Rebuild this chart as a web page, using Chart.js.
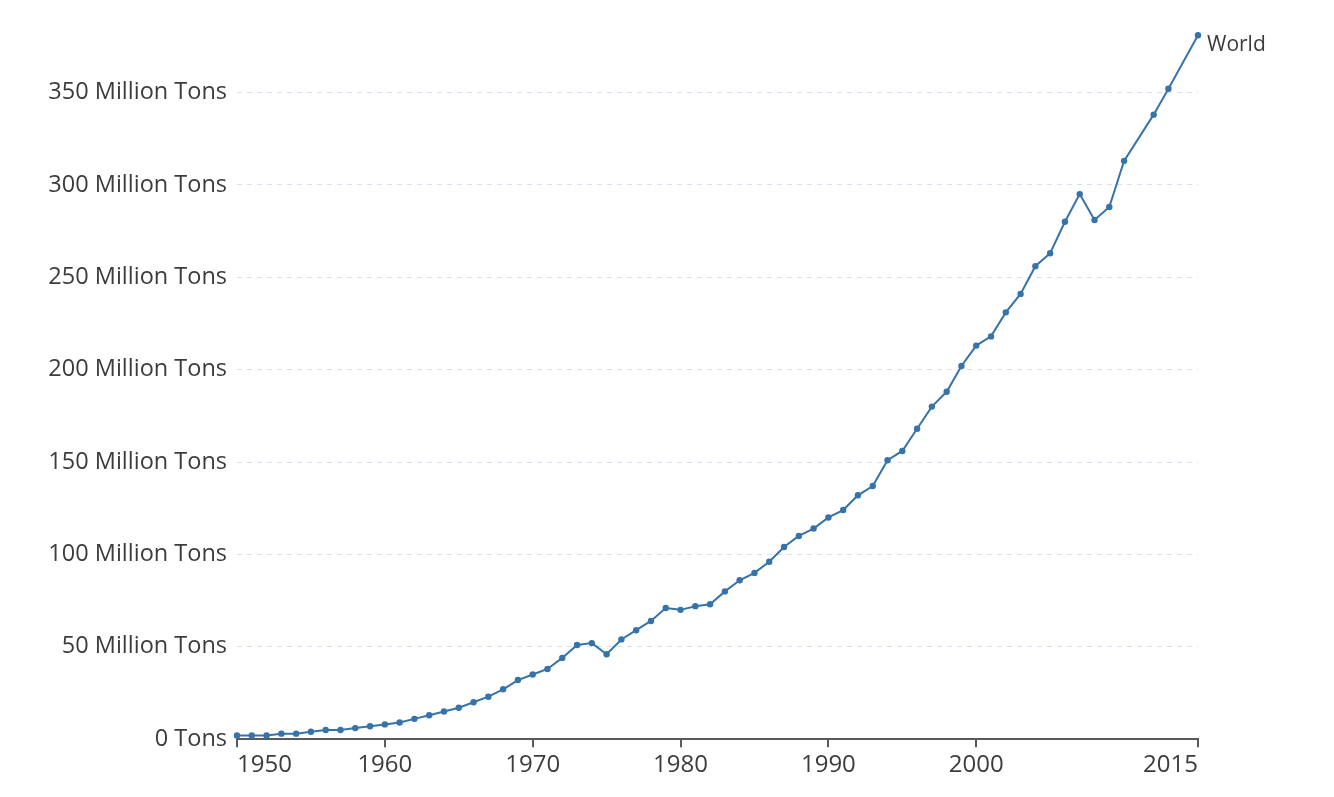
<!DOCTYPE html>
<html>
<head>
<meta charset="utf-8">
<script src="https://cdn.jsdelivr.net/npm/chart.js@4.4.1/dist/chart.umd.min.js"></script>
<style>
html,body{margin:0;padding:0;background:#fff;}
#wrap{width:1334px;height:797px;position:relative;}
</style>
</head>
<body>
<div id="wrap"><canvas id="c" width="1334" height="797"></canvas></div>
<script>
const years = [1950,1951,1952,1953,1954,1955,1956,1957,1958,1959,
  1960,1961,1962,1963,1964,1965,1966,1967,1968,1969,
  1970,1971,1972,1973,1974,1975,1976,1977,1978,1979,
  1980,1981,1982,1983,1984,1985,1986,1987,1988,1989,
  1990,1991,1992,1993,1994,1995,1996,1997,1998,1999,
  2000,2001,2002,2003,2004,2005,2006,2007,2008,2009,
  2010,2012,2013,2015];
const production = [2,2,2,3,3,4,5,5,6,7,
  8,9,11,13,15,17,20,23,27,32,
  35,38,44,51,52,46,54,59,64,71,
  70,72,73,80,86,90,96,104,110,114,
  120,124,132,137,151,156,168,180,188,202,
  213,218,231,241,256,263,280,295,281,288,
  313,338,352,381];
const xTicks = [1950,1960,1970,1980,1990,2000,2015];
const yTicks = [0,50,100,150,200,250,300,350];
const seriesName = "World";

const textColor = "#3c3c3c";
const lineColor = "#3673a8";
const FONT = "'Open Sans', 'Noto Sans', sans-serif";

const labelPlugin = {
  id: 'endLabel',
  afterDatasetsDraw(chart) {
    const meta = chart.getDatasetMeta(0);
    const last = meta.data[meta.data.length - 1];
    const ctx = chart.ctx;
    ctx.save();
    ctx.font = "21px " + FONT;
    ctx.fillStyle = textColor;
    ctx.textAlign = 'left';
    ctx.textBaseline = 'middle';
    ctx.fillText(seriesName, last.x + 9, last.y + 10);
    ctx.restore();
  }
};

new Chart(document.getElementById('c'), {
  type: 'line',
  data: {
    datasets: [{
      label: seriesName,
      data: years.map((y, i) => ({x: y, y: production[i]})),
      borderColor: lineColor,
      backgroundColor: lineColor,
      borderWidth: 2,
      pointRadius: 3.2,
      pointBorderWidth: 0,
      pointBackgroundColor: lineColor,
      tension: 0,
      clip: false
    }]
  },
  options: {
    responsive: false,
    animation: false,
    layout: {padding: {top: 0, right: 136, bottom: 13, left: 0}},
    plugins: {legend: {display: false}, tooltip: {enabled: false}},
    scales: {
      x: {
        type: 'linear',
        min: 1950,
        max: 2015,
        afterBuildTicks(axis) { axis.ticks = xTicks.map(v => ({value: v})); },
        ticks: {
          align: 'inner',
          color: textColor,
          font: {family: FONT, size: 24},
          padding: 4,
          maxRotation: 0,
          autoSkip: false,
          callback: v => String(v)
        },
        grid: {
          drawOnChartArea: false,
          drawTicks: true,
          tickLength: 8,
          color: "#5a5a5a",
          lineWidth: 2
        },
        border: {display: true, color: "#5a5a5a", width: 2}
      },
      y: {
        type: 'linear',
        min: 0,
        max: 387,
        afterBuildTicks(axis) { axis.ticks = yTicks.map(v => ({value: v})); },
        afterFit(axis) { axis.width = 237; },
        ticks: {
          color: textColor,
          font: {family: FONT, size: 23.5},
          padding: 10,
          callback: v => v === 0 ? "0 Tons" : v + " Million Tons"
        },
        grid: {
          drawTicks: false,
          color: ctx => ctx.tick && ctx.tick.value === 0 ? 'rgba(0,0,0,0)' : "#d8def3",
          lineWidth: 1
        },
        border: {display: false, dash: [5, 5]}
      }
    }
  },
  plugins: [labelPlugin]
});
</script>
</body>
</html>
